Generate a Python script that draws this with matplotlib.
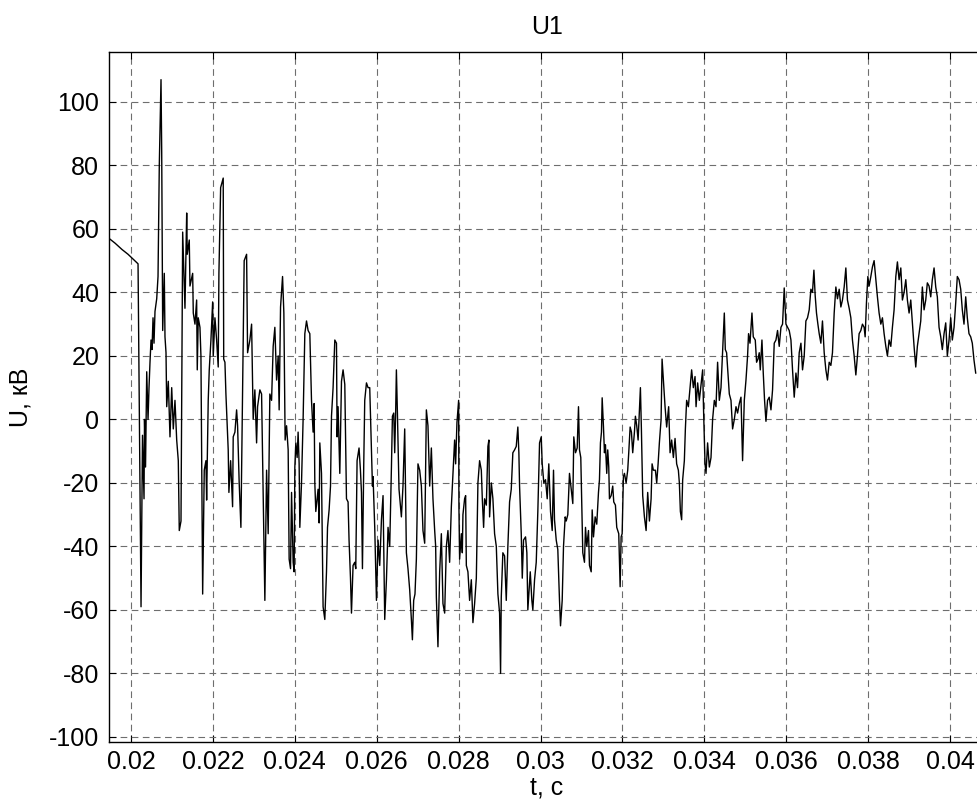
import matplotlib
matplotlib.use('Agg')
import matplotlib.pyplot as plt
import numpy as np

#Voltage trace U1 (time in ms, voltage in kV)
t_ms = [19.463, 19.610, 19.780, 19.927, 20.049, 20.171, 20.244, 20.280, 20.317, 20.329,
        20.354, 20.383, 20.415, 20.439, 20.463, 20.488, 20.512, 20.537, 20.561, 20.585,
        20.627, 20.659, 20.690, 20.732, 20.749, 20.773, 20.812, 20.829, 20.854, 20.871,
        20.910, 20.951, 20.993, 21.032, 21.073, 21.115, 21.154, 21.178, 21.220, 21.261,
        21.317, 21.359, 21.373, 21.422, 21.439, 21.505, 21.520, 21.561, 21.602, 21.617,
        21.641, 21.683, 21.707, 21.749, 21.788, 21.829, 21.846, 21.885, 21.910, 21.951,
        21.993, 22.007, 22.049, 22.090, 22.129, 22.146, 22.188, 22.251, 22.263, 22.293,
        22.317, 22.373, 22.390, 22.432, 22.480, 22.495, 22.537, 22.578, 22.602, 22.641,
        22.683, 22.763, 22.822, 22.846, 22.902, 22.944, 22.983, 23.024, 23.066, 23.090,
        23.146, 23.188, 23.268, 23.310, 23.349, 23.390, 23.432, 23.471, 23.512, 23.554,
        23.593, 23.617,
        23.651, 23.700, 23.732, 23.763, 23.798, 23.837, 23.861, 23.895, 23.920, 23.959,
        23.983, 24.000, 24.024, 24.056, 24.080, 24.105, 24.122, 24.163, 24.202, 24.244,
        24.285, 24.324, 24.366, 24.407, 24.446, 24.471, 24.488, 24.512, 24.568, 24.593,
        24.610, 24.651, 24.690, 24.732, 24.773, 24.798, 24.837, 24.871, 24.895, 24.934,
        24.976, 25.017, 25.032, 25.056, 25.098, 25.139, 25.178, 25.220, 25.261, 25.300,
        25.324, 25.359, 25.383, 25.422, 25.463, 25.488, 25.520, 25.568, 25.602, 25.627,
        25.651, 25.683, 25.707, 25.749, 25.788, 25.829, 25.846, 25.871, 25.895, 25.910,
        25.951, 25.993, 26.032, 26.073, 26.115, 26.154, 26.195, 26.237, 26.276, 26.317,
        26.359, 26.383, 26.415, 26.439, 26.463, 26.480, 26.505, 26.544, 26.602, 26.641,
        26.683, 26.724, 26.763, 26.805, 26.846, 26.871, 26.902, 26.934, 26.968, 27.007,
        27.049, 27.090, 27.129, 27.171, 27.212, 27.251, 27.293, 27.334, 27.373, 27.415,
        27.439, 27.456, 27.495,
        27.537, 27.578, 27.617, 27.659, 27.700, 27.739, 27.780, 27.822, 27.861, 27.902,
        27.927, 27.959, 28.000, 28.007, 28.024, 28.066, 28.090, 28.105, 28.146, 28.171,
        28.188, 28.227, 28.268, 28.310, 28.349, 28.390, 28.432, 28.471, 28.512, 28.554,
        28.578, 28.610, 28.634, 28.676, 28.715, 28.739, 28.756, 28.798, 28.837, 28.878,
        28.920, 28.959, 29.000, 29.024, 29.041, 29.080, 29.122, 29.163, 29.202, 29.244,
        29.285, 29.324, 29.366, 29.407, 29.446, 29.471, 29.488, 29.529, 29.554, 29.585,
        29.634, 29.666, 29.690, 29.715, 29.749, 29.788, 29.812, 29.854, 29.895, 29.934,
        29.976, 30.017, 30.041, 30.080, 30.122, 30.163, 30.202, 30.244, 30.285, 30.317,
        30.341, 30.383, 30.422, 30.463, 30.488, 30.529, 30.561, 30.602, 30.627, 30.666,
        30.707, 30.749, 30.788, 30.812, 30.854, 30.895, 30.927, 30.951, 30.983, 31.032,
        31.073, 31.098, 31.129, 31.171, 31.195, 31.237, 31.261, 31.293, 31.334, 31.373,
        31.415, 31.439,
        31.463, 31.488, 31.505, 31.537, 31.561, 31.585, 31.617, 31.641, 31.666, 31.683,
        31.724, 31.763, 31.788, 31.829, 31.861, 31.910, 31.944, 31.968, 31.993, 32.024,
        32.049, 32.090, 32.129, 32.154, 32.188, 32.220, 32.251, 32.293, 32.317, 32.349,
        32.383, 32.415, 32.439, 32.463, 32.495, 32.537, 32.578, 32.617, 32.659, 32.700,
        32.724, 32.756, 32.805, 32.837, 32.871, 32.902, 32.944, 32.968, 33.000, 33.041,
        33.080, 33.129, 33.163, 33.202, 33.244, 33.285, 33.324, 33.366, 33.390, 33.415,
        33.446, 33.471, 33.512, 33.537, 33.568, 33.610, 33.651, 33.690, 33.732, 33.773,
        33.798, 33.837, 33.878, 33.920, 33.959, 33.983, 34.017, 34.041, 34.080, 34.122,
        34.163, 34.202, 34.244, 34.285, 34.324, 34.366, 34.407, 34.446, 34.488, 34.512,
        34.544, 34.585, 34.610, 34.651, 34.690, 34.732, 34.773, 34.812, 34.854,
        34.895, 34.934, 34.976, 35.017, 35.056, 35.080, 35.115, 35.163, 35.195, 35.244,
        35.276, 35.310, 35.341, 35.366, 35.407, 35.439, 35.471, 35.505, 35.544, 35.585,
        35.627, 35.666, 35.707, 35.749, 35.788, 35.829, 35.871, 35.910, 35.951, 35.993,
        36.032, 36.073, 36.115, 36.154, 36.195, 36.237, 36.276, 36.317, 36.359, 36.398,
        36.439, 36.480, 36.520, 36.561, 36.602, 36.641, 36.676, 36.707, 36.739, 36.773,
        36.805, 36.846, 36.885, 36.927, 36.968, 37.007, 37.049, 37.090, 37.129, 37.171,
        37.212, 37.251, 37.293, 37.334, 37.373, 37.415, 37.456, 37.495, 37.537, 37.578,
        37.617, 37.659, 37.700, 37.739, 37.780, 37.822, 37.861, 37.902, 37.927, 37.959,
        37.993, 38.024, 38.066, 38.105, 38.146, 38.188, 38.227, 38.268, 38.310, 38.349,
        38.390, 38.432, 38.471, 38.512, 38.554, 38.593, 38.634, 38.676, 38.715, 38.756,
        38.798, 38.837, 38.878, 38.920, 38.959, 39.000, 39.041, 39.080, 39.122, 39.163,
        39.202, 39.244, 39.285, 39.324, 39.366, 39.407, 39.446, 39.488, 39.529, 39.568,
        39.610, 39.651, 39.690, 39.732, 39.773, 39.812, 39.854, 39.895, 39.934, 39.976,
        40.017, 40.056, 40.098, 40.139, 40.178, 40.220, 40.261, 40.300, 40.341, 40.383,
        40.422, 40.463, 40.505, 40.544, 40.585, 40.627]

u_kv = [57, 55.5, 53.5, 52, 50.5, 49, -59, -5, -25, 0,
        -15, 15, 0, 10, 18, 25, 22, 32, 24, 34,
        38, 45, 80, 107, 84, 28, 46, 26, 21, 4,
        12, -5.5, 10, -3, 6, -6.5, -13, -35, -32, 59,
        35, 65, 52, 56.5, 42, 46, 33.5, 30, 37.6, 15.6,
        32, 29, 20, -55, -16, -13, -25.4, 6, 15.6, 25,
        37, 20, 32, 25, 16.5, 46, 73, 76, 19, 18,
        8, -9.6, -23, -13, -27.5, -5.5, -4, 3, -2, -20,
        -34, 50, 52, 21, 25, 30, 0, 9.3, -7.4, 4,
        9.3, 8, -57, -16, -36, 8, 6, 23, 29, 12.4,
        20, 3,
        35.4, 45, 33.5, -6.5, -2, -9.6, -44, -47, -23, -45,
        -48, -15, -7.4, -12, -4, -14, -34, -20, 0, 27,
        31, 28, 27, 6, -4, 5, -20, -29, -22, -32.6,
        -7.4, -17, -59, -63, -48, -34, -28.5, -21, 1, 10,
        25, 24, -5.5, 4, -17, 12, 15.6, 11, -25, -26,
        -38, -50, -61, -46, -45, -47, -13, -9, -16, -23,
        -47, -14, 6, 11.5, 10, 10, 2, -8.5, -21, -18,
        -34, -57, -38, -46, -31.6, -24, -63, -50.5, -34, -40,
        -15, 1, 2, -10.5, 3, 15.6, 2, -22, -30.7, -21,
        -3, -42, -47, -53.7, -63, -69.4, -57, -55, -44, -14,
        -16, -21, -35, -39, 3, -2, -21, -9, -25, -35,
        -40, -56, -71.6,
        -48, -36, -58, -61, -40, -35, -45, -27.5, -17, -6.5,
        -14, -1, 6, -27.5, -44, -36, -42, -30, -25, -24,
        -46, -48, -57, -50.5, -64, -58, -50, -20, -13, -16,
        -25, -34, -25, -27, -8.5, -6.5, -30.7, -20, -25, -36,
        -40, -55, -61, -80, -56, -42, -43, -57, -40, -26,
        -22, -10.5, -9.6, -8.5, -2.4, -10.5, -21, -36, -50, -38,
        -37, -42, -60, -55, -48, -57, -60, -50.5, -45, -29,
        -7.4, -5.5, -14, -20, -19, -25, -14, -29, -35, -16,
        -31.6, -38, -41, -57, -65, -57, -40, -30.7, -32, -30,
        -17, -22, -26.5, -5.5, -10.5, -9, 4, -9.6, -12, -42,
        -45, -34, -40, -35, -46, -48, -28.5, -37, -30.7, -33,
        -23, -19,
        -7.4, -4, 6.8, -2.4, -10.5, -8, -17, -9.6, -15, -25,
        -24, -21, -26, -27, -34, -36, -52.7, -37, -36, -18,
        -17, -20, -16, -10.5, -2.4, -4, -10.5, -4, 1, -2,
        -6.5, 3, 10, -3, -24, -30.7, -35, -23, -32, -25,
        -14, -16, -16, -20, -14, -7.4, 0, 19, 12.4, 4,
        -2.4, 4, -10.5, -6.5, -12, -6, -14, -16, -20, -29,
        -31.6, -19, -13, -3, 6, 4, 10, 15.6, 10, 13.5,
        4, 11.5, 6, 11, 15.6, 2, -14, -17, -7.4, -15,
        -12, 0, 6, 4, 18, 6, 10, 21, 33.5, 22,
        21, 13, 8, 6, -3, 0, 4, 2, 5,
        7, -13, 6, 12.4, 20, 27, 24, 33.5, 26, 25,
        18, 19, 21, 15.6, 25, 14.6, 6, -0.6, 6, 7,
        3, 9.3, 24, 25, 28, 23, 29, 30, 41.4, 30,
        29, 28, 25, 15.6, 7, 14.6, 10, 21, 24, 15.6,
        20, 31, 32, 34.5, 41, 40, 47, 39, 33.5, 30,
        27, 24, 31, 21, 15.6, 12.4, 18, 17, 21, 33.5,
        41.7, 38, 41, 35.4, 37.6, 41.7, 47.7, 37.6, 35, 32,
        25, 20, 14, 20, 27, 28, 30, 29, 26, 36.7,
        45, 42, 45, 48, 50, 44, 38.6, 33.5, 30, 32,
        27, 23, 20, 25, 23, 29, 34.5, 45, 49.6, 44,
        47.7, 37.6, 40, 44, 37.6, 33.5, 37.6, 30.4, 23, 16.5,
        23, 27, 31, 41.7, 34.5, 37.6, 43, 42, 38.6, 44,
        47.7, 41.7, 38.6, 29, 26, 22, 27, 30.4, 20, 25,
        32, 25, 29, 36.7, 45, 44, 41, 34.5, 30, 38.6,
        32, 27, 26, 24, 18.7, 14.6]

x_ticks = [0.02, 0.022, 0.024, 0.026, 0.028, 0.03, 0.032, 0.034, 0.036, 0.038, 0.04]
x_tick_labels = ['0.02', '0.022', '0.024', '0.026', '0.028', '0.03', '0.032', '0.034', '0.036', '0.038', '0.04']
y_ticks = [-100, -80, -60, -40, -20, 0, 20, 40, 60, 80, 100]

plt.rcParams['font.family'] = ['Liberation Sans', 'DejaVu Sans']
plt.rcParams['axes.unicode_minus'] = False

t = np.array(t_ms) / 1000.0
u = np.array(u_kv)

fig = plt.figure(figsize=(9.78, 8.09), dpi=100)
#axes run off the right edge of the picture like in the original screenshot
ax = fig.add_axes([0.1115, 0.0828, 0.8957, 0.8529])

ax.plot(t, u, color='black', linewidth=1.0)

ax.set_xlim(0.019463, 0.040855)
ax.set_ylim(-101.6, 115.7)
ax.set_xticks(x_ticks)
ax.set_xticklabels(x_tick_labels)
ax.set_yticks(y_ticks)

#MATLAB style grid and ticks
ax.grid(True, color='#6e6e6e', linestyle=(0, (6, 4)), linewidth=0.8)
ax.tick_params(direction='in', length=5, width=0.8, top=True, right=True, labelsize=18)
ax.tick_params(axis='x', pad=6)
ax.tick_params(axis='y', pad=7)
for spine in ax.spines.values():
    spine.set_linewidth(1.0)

ax.set_title('U1', fontsize=18, pad=13)
ax.set_xlabel('t, с', fontsize=18, labelpad=1)
ax.set_ylabel('U, кВ', fontsize=18, labelpad=12)

fig.savefig('out.png', dpi=100)
